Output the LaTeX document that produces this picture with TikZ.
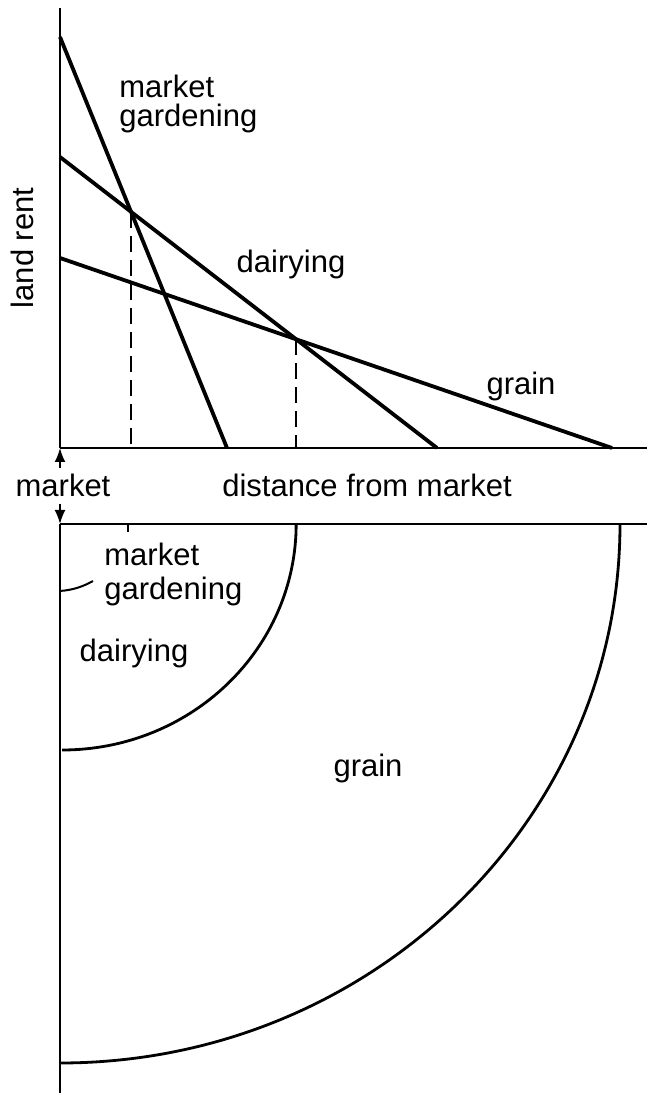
\documentclass[tikz,border=0pt]{standalone}
\usepackage{fontspec}
\setmainfont{Liberation Sans}
\usetikzlibrary{arrows.meta,intersections}

\tikzset{
	rentline/.style={line width=1.9pt},
	axisline/.style={line width=1.1pt},
	floorline/.style={line width=0.8pt},
	zoneline/.style={line width=1.4pt},
	dropline/.style={line width=1pt, dash pattern=on 8pt off 4pt},
	lbl/.style={inner sep=0pt, font=\fontsize{15.5}{14.5}\selectfont},
	mktarrow/.style={-{Latex[length=7pt,width=5.5pt]}, line width=0.9pt, shorten <=3pt}
}

\begin{document}
\begin{tikzpicture}[x=0.5pt,y=0.5pt]
	\useasboundingbox (0,0) rectangle (647,1093);
	\coordinate (O) at (60,645);
	\coordinate (P) at (60,569);

	% rent lines
	\draw[axisline] (60,1085) -- (O);
	\draw[floorline] (O) -- (647,645);
	\draw[rentline, name path=mg] (60,1056) -- (227,645);
	\draw[rentline, name path=dy] (60,936) -- (437,645);
	\draw[rentline, name path=gr] (60,835) -- (612,645);
	\path[name intersections={of=mg and dy, by=A}];
	\path[name intersections={of=dy and gr, by=B}];
	\draw[dropline] (A) -- (A |- O);
	\draw[dropline] (B) -- (B |- O);

	\node[lbl, anchor=base, rotate=90] (rent) at (34,845) {land rent};
	\node[lbl, anchor=north west, align=left] (mgtop) at (119,1018) {market\\gardening};
	\node[lbl, anchor=base] (dytop) at (291,820) {dairying};
	\node[lbl, anchor=base] (grtop) at (521,698) {grain};

	% axis strip
	\node[lbl, anchor=base] (mkt) at (63,596) {market};
	\node[lbl, anchor=base] (dist) at (367,596) {distance from market};
	\draw[mktarrow] (mkt.north -| O) -- (O);
	\draw[mktarrow] (mkt.south -| P) -- (P);

	% zones
	\draw[floorline] (P) -- (647,569);
	\draw[axisline] (P) -- (60,0);
	\draw[floorline] (A |- P) ++(-3,0) -- ++(0,-8);
	\draw[zoneline] (B |- P) arc[start angle=0, end angle=-90, x radius=117pt, y radius=113pt];
	\draw[zoneline] (620,569) arc[start angle=0, end angle=-90, x radius=280pt, y radius=269.5pt];
	\coordinate (lead) at (60,502);
	\draw[line width=1pt] (lead) .. controls (74,503) and (84,507) .. (93,512);

	\node[lbl, anchor=north west, align=left] (mgbot) at (104,550) {market\\[2.5pt]gardening};
	\node[lbl, anchor=base] (dybot) at (134,431) {dairying};
	\node[lbl, anchor=base] (grbot) at (368,316) {grain};
\end{tikzpicture}
\end{document}
